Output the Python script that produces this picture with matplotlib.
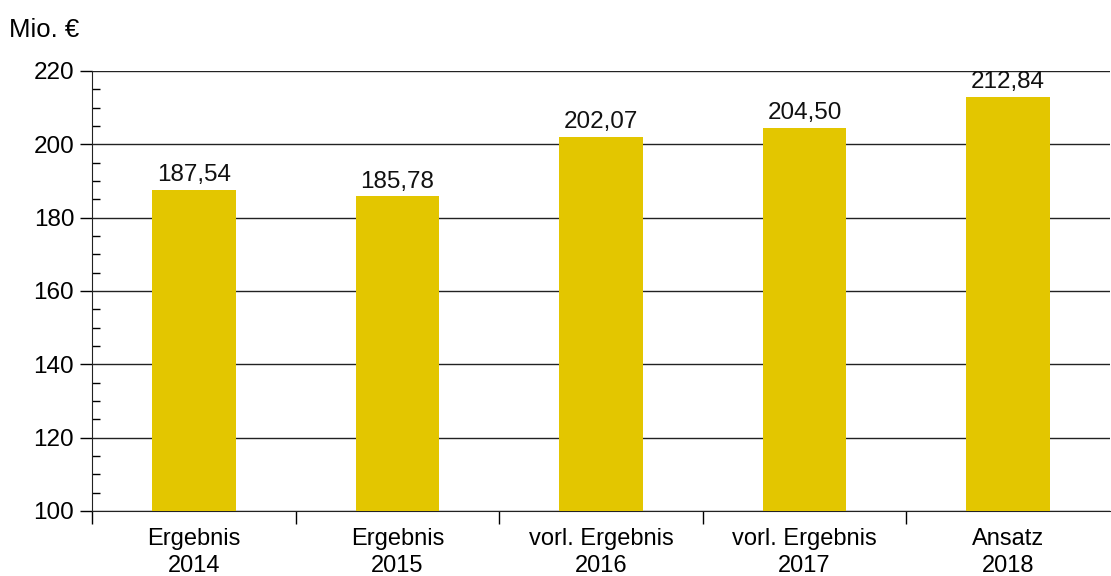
import matplotlib
matplotlib.use("Agg")
import matplotlib.pyplot as plt
from matplotlib.ticker import MultipleLocator

categories = ["Ergebnis\n2014", "Ergebnis\n2015", "vorl. Ergebnis\n2016",
              "vorl. Ergebnis\n2017", "Ansatz\n2018"]
values = [187.54, 185.78, 202.07, 204.50, 212.84]
y_ticks = [100, 120, 140, 160, 180, 200, 220]

plt.rcParams['font.family'] = ['Liberation Sans', 'DejaVu Sans']

fig = plt.figure(figsize=(11.11, 5.76), dpi=100)
ax = fig.add_axes([0.083, 0.113, 0.916, 0.764])

x = list(range(len(categories)))
ax.bar(x, values, width=0.41, color='#E3C600', zorder=3)

for xi, v in zip(x, values):
    label = f"{v:.2f}".replace(".", ",")
    ax.text(xi, v + 1.0, label, ha='center', va='bottom', fontsize=17.5, color='#111111', zorder=4)

ax.set_xlim(-0.5, len(categories) - 0.5)
ax.set_ylim(100, 220)
ax.set_yticks(y_ticks)
ax.yaxis.set_minor_locator(MultipleLocator(5))
ax.tick_params(axis='y', which='major', direction='out', length=9, width=1, labelsize=17.5, pad=4)
ax.tick_params(axis='y', which='minor', direction='in', length=6, width=1)
ax.grid(axis='y', which='major', color='#222222', linewidth=1, zorder=1)

# category ticks sit at the boundaries
ax.set_xticks([i + 0.5 for i in range(len(categories) - 1)] + [-0.5])
ax.set_xticklabels([])
ax.tick_params(axis='x', which='major', direction='out', length=9, width=1)
ax.set_xticks(x, minor=True)
ax.set_xticklabels(categories, minor=True, fontsize=17, linespacing=1.3)
ax.tick_params(axis='x', which='minor', length=0, pad=12)

for side in ['top', 'right']:
    ax.spines[side].set_visible(False)
ax.spines['left'].set_color('#222222')
ax.spines['bottom'].set_color('#222222')

fig.text(0.008, 0.948, "Mio. €", fontsize=18.5, ha='left', va='center')

fig.savefig("out.png", dpi=100)
